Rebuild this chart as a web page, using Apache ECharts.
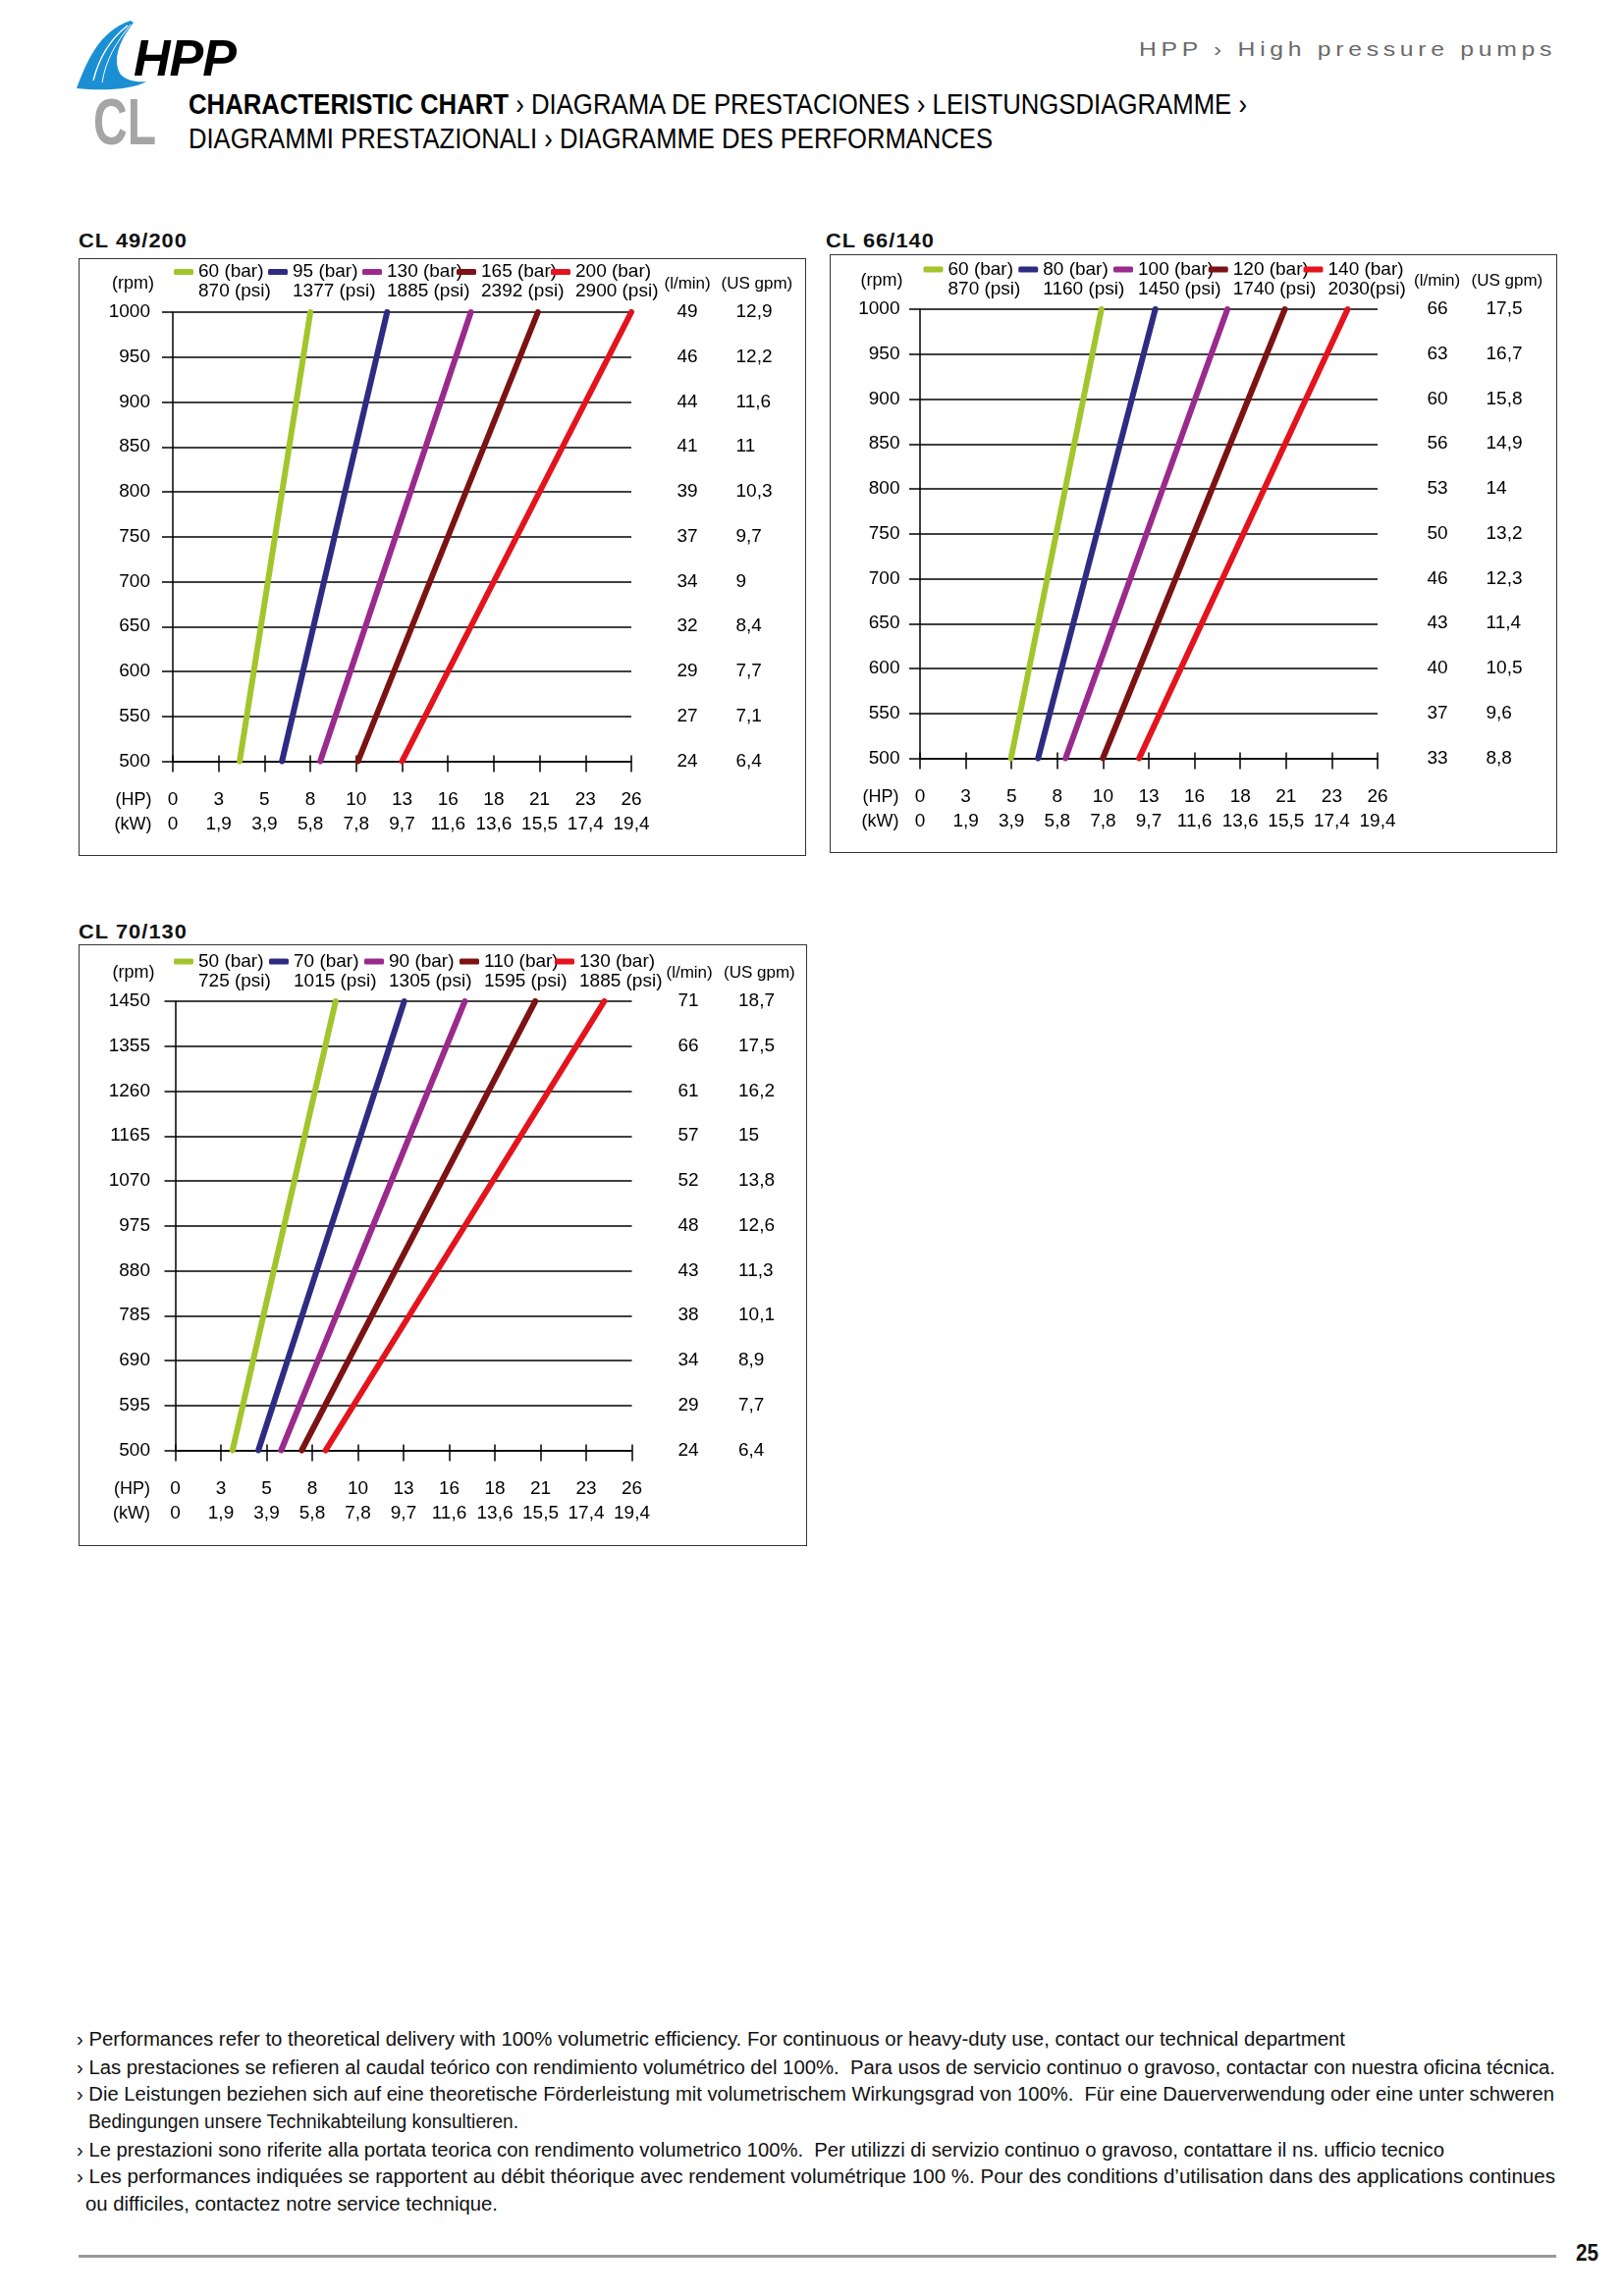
<!DOCTYPE html>
<html><head><meta charset="utf-8">
<script src="https://cdn.jsdelivr.net/npm/echarts/dist/echarts.min.js"></script>
<style>
html,body{margin:0;padding:0;background:#fff;}
#page{position:relative;width:1654px;height:2339px;overflow:hidden;font-family:'Liberation Sans',Arial,sans-serif;color:#111;}
.t{position:absolute;white-space:nowrap;line-height:1;transform-origin:0 50%;}
.box{position:absolute;box-sizing:border-box;border:1.5px solid #333;}
.box .c{position:absolute;left:-1.5px;top:-1.5px;}
</style>
</head><body><div id="page">
<svg style="position:absolute;left:0;top:0" width="300" height="160">
  <path d="M78 90 C88 64,100 32,133 21 L136 23 C121 42,114 62,123 76 C129 82,138 84,149 83 C136 91,106 93,78 90 Z" fill="#1b8fd3"/>
  <path d="M95 82 C101 58,112 40,130 26" stroke="#fff" stroke-width="1.4" fill="none"/>
  <path d="M104 84 C108 60,118 44,133 25" stroke="#fff" stroke-width="1" fill="none"/>
</svg>
<div class="t" style="left:136px;top:33px;font-size:52px;font-weight:bold;font-style:italic;color:#000;letter-spacing:-1px">HPP</div>
<div class="t" data-w="64" style="left:95px;top:91px;font-size:66px;font-weight:bold;color:#a5a5a5">CL</div>
<div class="t" data-w="425" style="left:1160px;top:39px;font-size:21px;color:#6a6a6a;letter-spacing:4px">HPP › High pressure pumps</div>
<div class="t" data-w="1078" style="left:192px;top:92px;font-size:29px;color:#000"><b>CHARACTERISTIC CHART</b> › DIAGRAMA DE PRESTACIONES › LEISTUNGSDIAGRAMME ›</div>
<div class="t" data-w="819" style="left:192px;top:127px;font-size:29px;color:#000">DIAGRAMMI PRESTAZIONALI › DIAGRAMME DES PERFORMANCES</div>

<div class="t" data-w="111" style="left:80px;top:234px;font-size:21px;font-weight:bold;color:#111;letter-spacing:1px">CL 49/200</div>
<div class="t" data-w="111" style="left:841px;top:234px;font-size:21px;font-weight:bold;color:#111;letter-spacing:1px">CL 66/140</div>
<div class="t" data-w="111" style="left:80px;top:938px;font-size:21px;font-weight:bold;color:#111;letter-spacing:1px">CL 70/130</div>

<div class="box" style="left:80px;top:263px;width:741px;height:609px"><div class="c" id="c1" style="width:741px;height:609px"></div></div>
<div class="box" style="left:845px;top:259px;width:741px;height:610px"><div class="c" id="c2" style="width:741px;height:610px"></div></div>
<div class="box" style="left:80px;top:962px;width:742px;height:613px"><div class="c" id="c3" style="width:742px;height:613px"></div></div>

<div class="t" data-w="1292" style="left:78px;top:2067px;font-size:20px">› Performances refer to theoretical delivery with 100% volumetric efficiency. For continuous or heavy-duty use, contact our technical department</div>
<div class="t" data-w="1506" style="left:78px;top:2096px;font-size:20px">› Las prestaciones se refieren al caudal teórico con rendimiento volumétrico del 100%.&nbsp; Para usos de servicio continuo o gravoso, contactar con nuestra oficina técnica.</div>
<div class="t" data-w="1505" style="left:78px;top:2123px;font-size:20px">› Die Leistungen beziehen sich auf eine theoretische Förderleistung mit volumetrischem Wirkungsgrad von 100%.&nbsp; Für eine Dauerverwendung oder eine unter schweren</div>
<div class="t" data-w="438" style="left:90px;top:2151px;font-size:20px">Bedingungen unsere Technikabteilung konsultieren.</div>
<div class="t" data-w="1393" style="left:78px;top:2180px;font-size:20px">› Le prestazioni sono riferite alla portata teorica con rendimento volumetrico 100%.&nbsp; Per utilizzi di servizio continuo o gravoso, contattare il ns. ufficio tecnico</div>
<div class="t" data-w="1506" style="left:78px;top:2207px;font-size:20px">› Les performances indiquées se rapportent au débit théorique avec rendement volumétrique 100 %. Pour des conditions d’utilisation dans des applications continues</div>
<div class="t" data-w="420" style="left:87px;top:2235px;font-size:20px">ou difficiles, contactez notre service technique.</div>
<div style="position:absolute;left:80px;top:2297px;width:1505px;height:3px;background:#999"></div>
<div class="t" data-w="23" style="left:1605px;top:2283px;font-size:24px;font-weight:bold">25</div>
</div>
<script>
// ---------- shared tick labels ----------
const HP_TICKS = ['0','3','5','8','10','13','16','18','21','23','26'];
const KW_TICKS = ['0','1,9','3,9','5,8','7,8','9,7','11,6','13,6','15,5','17,4','19,4'];
const HP_MAX = 26, HP_STEP = 2.6;
const COLORS = ['#a3c52c','#2e2c82','#9a2a8c','#7c1213','#e3141d'];

// ---------- CL 49/200 ----------
const cl49_rpm = [500, 1000], cl49_step = 50;
const cl49_bar = ['60 (bar)','95 (bar)','130 (bar)','165 (bar)','200 (bar)'];
const cl49_psi = ['870 (psi)','1377 (psi)','1885 (psi)','2392 (psi)','2900 (psi)'];
const cl49_hpLow  = [3.79, 6.19, 8.36, 10.5, 13.0];
const cl49_hpHigh = [7.8, 12.15, 16.9, 20.7, 26.0];
const cl49_lpm = ['24','27','29','32','34','37','39','41','44','46','49'];
const cl49_gpm = ['6,4','7,1','7,7','8,4','9','9,7','10,3','11','11,6','12,2','12,9'];

// ---------- CL 66/140 ----------
const cl66_rpm = [500, 1000], cl66_step = 50;
const cl66_bar = ['60 (bar)','80 (bar)','100 (bar)','120 (bar)','140 (bar)'];
const cl66_psi = ['870 (psi)','1160 (psi)','1450 (psi)','1740 (psi)','2030(psi)'];
const cl66_hpLow  = [5.17, 6.71, 8.27, 10.39, 12.45];
const cl66_hpHigh = [10.31, 13.37, 17.47, 20.73, 24.3];
const cl66_lpm = ['33','37','40','43','46','50','53','56','60','63','66'];
const cl66_gpm = ['8,8','9,6','10,5','11,4','12,3','13,2','14','14,9','15,8','16,7','17,5'];

// ---------- CL 70/130 ----------
const cl70_rpm = [500, 1450], cl70_step = 95;
const cl70_bar = ['50 (bar)','70 (bar)','90 (bar)','110 (bar)','130 (bar)'];
const cl70_psi = ['725 (psi)','1015 (psi)','1305 (psi)','1595 (psi)','1885 (psi)'];
const cl70_hpLow  = [3.26, 4.73, 6.03, 7.2, 8.56];
const cl70_hpHigh = [9.13, 13.04, 16.49, 20.5, 24.43];
const cl70_lpm = ['24','29','34','38','43','48','52','57','61','66','71'];
const cl70_gpm = ['6,4','7,7','8,9','10,1','11,3','12,6','13,8','15','16,2','17,5','18,7'];

// fit header/footer text widths
document.querySelectorAll('[data-w]').forEach(el => {
  const w = el.getBoundingClientRect().width;
  el.style.transform = 'scaleX(' + (el.dataset.w / w) + ')';
});

const FONT = "'Liberation Sans', Arial, sans-serif";
function makeOption(d, L) {
  const [min, max] = d.rpm;
  const yi = v => Math.round((v - min) / d.step);
  const xi = v => Math.round(v / HP_STEP);
  const black = {color:'#000', width:1.5};
  const hidden = {show:false};
  const rightAxis = (labels, margin, name, pad) => ({
    type:'value', position:'right', min, max, interval:d.step,
    axisLine:{show:false, onZero:false}, axisTick:hidden, splitLine:hidden,
    axisLabel:{margin, fontSize:19, color:'#000', fontFamily:FONT, formatter: v => labels[yi(v)]},
    name, nameLocation:'end', nameGap:28.5, nameMoveOverlap:false,
    nameTextStyle:{align:'left', verticalAlign:'middle', padding:[0,0,0,pad], fontSize:17, color:'#000', fontFamily:FONT}
  });
  return {
    animation:false,
    textStyle:{fontFamily:FONT},
    grid:{left:L.gl, top:L.gt, width:L.gw, height:L.gh, containLabel:false},
    legend: d.bar.map((n, i) => ({
      left:L.ll + i * L.ls, top:L.lt, padding:0, itemGap:0, itemWidth:20, itemHeight:6, icon:'roundRect',
      selectedMode:false, data:[n],
      formatter: nm => '\n' + nm + '\n' + d.psi[d.bar.indexOf(nm)],
      textStyle:{fontSize:19, lineHeight:20, color:'#000', fontFamily:FONT}
    })),
    xAxis:[
      {type:'value', min:0, max:HP_MAX, interval:HP_STEP, position:'bottom',
       axisLine:{show:true, onZero:false, lineStyle:black},
       axisTick:{show:true, length:11, lineStyle:black},
       splitLine:hidden,
       axisLabel:{margin:26.5, fontSize:19, lineHeight:25.5, color:'#000', fontFamily:FONT, showMinLabel:true, showMaxLabel:true,
         formatter: v => HP_TICKS[xi(v)] + '\n' + KW_TICKS[xi(v)]},
       name:'(HP)\n(kW)', nameLocation:'start', nameGap:L.hg, nameMoveOverlap:false,
       nameTextStyle:{align:'right', verticalAlign:'top', padding:[26.5,0,0,0], fontSize:18, lineHeight:25.5, color:'#000', fontFamily:FONT}},
      {type:'value', min:0, max:HP_MAX, interval:HP_STEP, position:'bottom',
       axisLine:{show:false, onZero:false}, axisTick:{show:true, inside:true, length:6, lineStyle:black},
       axisLabel:hidden, splitLine:hidden}
    ],
    yAxis:[
      {type:'value', position:'left', min, max, interval:d.step,
       axisLine:{show:true, onZero:false, lineStyle:black},
       axisTick:{show:true, length:11, lineStyle:black},
       splitLine:{show:true, lineStyle:black},
       axisLabel:{margin:L.rm, fontSize:19, color:'#000', fontFamily:FONT, showMinLabel:true, showMaxLabel:true,
         formatter: v => String(v)},
       name:'(rpm)', nameLocation:'end', nameGap:28.5, nameMoveOverlap:false,
       nameTextStyle:{align:'right', verticalAlign:'middle', padding:[0,L.rp,0,0], fontSize:18, color:'#000', fontFamily:FONT}},
      rightAxis(d.lpm, L.m1, '(l/min)', L.p1),
      rightAxis(d.gpm, L.m2, '(US gpm)', L.p2)
    ],
    series: d.bar.map((n, i) => ({
      name:n, type:'line', xAxisIndex:0, yAxisIndex:0, clip:false, silent:true,
      symbol:'none', showSymbol:false, z:5,
      itemStyle:{color:COLORS[i]},
      lineStyle:{color:COLORS[i], width:6, cap:'round'},
      data:[[d.hpLow[i], min], [d.hpHigh[i], max]]
    }))
  };
}

const charts = [
  ['c1', {rpm:cl49_rpm, step:cl49_step, bar:cl49_bar, psi:cl49_psi, hpLow:cl49_hpLow, hpHigh:cl49_hpHigh, lpm:cl49_lpm, gpm:cl49_gpm},
         {gl:96, gt:55, gw:467, gh:457.5, ll:97, ls:96, lt:-16, rm:23, rp:19, hg:21.5, m1:46.5, p1:33.5, m2:106.5, p2:91.5}],
  ['c2', {rpm:cl66_rpm, step:cl66_step, bar:cl66_bar, psi:cl66_psi, hpLow:cl66_hpLow, hpHigh:cl66_hpHigh, lpm:cl66_lpm, gpm:cl66_gpm},
         {gl:92, gt:56, gw:466, gh:457.5, ll:95.5, ls:96.75, lt:-14.5, rm:20.5, rp:17.5, hg:21.5, m1:50.5, p1:37, m2:110.5, p2:95.5}],
  ['c3', {rpm:cl70_rpm, step:cl70_step, bar:cl70_bar, psi:cl70_psi, hpLow:cl70_hpLow, hpHigh:cl70_hpHigh, lpm:cl70_lpm, gpm:cl70_gpm},
         {gl:98.5, gt:58, gw:465, gh:457.5, ll:97, ls:97, lt:-12.5, rm:25.5, rp:21, hg:25.5, m1:47, p1:35, m2:108.5, p2:93.5}]
];
charts.forEach(([id, d, L]) => {
  const c = echarts.init(document.getElementById(id), null, {renderer:'canvas'});
  c.setOption(makeOption(d, L));
});
</script>
</body></html>
